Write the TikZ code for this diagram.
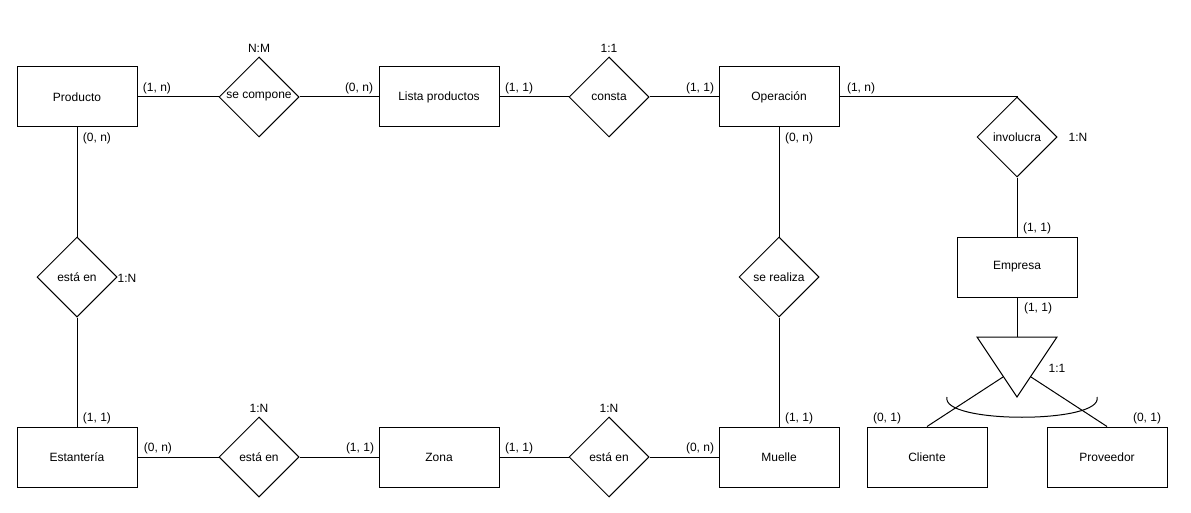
\documentclass[tikz,border=0pt]{standalone}
\usepackage{fontspec}
\setmainfont{Liberation Sans}
\usetikzlibrary{shapes.geometric}

\begin{document}
\begin{tikzpicture}[x=1pt, y=-1pt, line width=1pt,
    font=\fontsize{12}{14}\selectfont,
    entity/.style={draw, rectangle, minimum width=120pt, minimum height=60pt},
    relation/.style={draw, diamond, minimum width=80pt, minimum height=80pt, inner sep=0pt},
    card/.style={inner sep=0pt}]
    \useasboundingbox (0,0) rectangle (1191,513);

    % entidades
    \node[entity] (producto) at (77,97) {Producto};
    \node[entity] (lista) at (439,97) {Lista productos};
    \node[entity] (operacion) at (779,97) {Operación};
    \node[entity] (empresa) at (1017,267) {Empresa};
    \node[entity] (estanteria) at (77,457) {Estantería};
    \node[entity] (zona) at (439,457) {Zona};
    \node[entity] (muelle) at (779,457) {Muelle};
    \node[entity] (cliente) at (927,457) {Cliente};
    \node[entity] (proveedor) at (1107,457) {Proveedor};

    % relaciones
    \node[relation] (seCompone) at (259,97) {se compone};
    \node[relation] (consta) at (609,97) {consta};
    \node[relation] (involucra) at (1017,137) {involucra};
    \node[relation] (estaEnA) at (77,277) {está en};
    \node[relation] (seRealiza) at (779,277) {se realiza};
    \node[relation] (estaEnB) at (259,457) {está en};
    \node[relation] (estaEnC) at (609,457) {está en};

    % jerarquia
    \draw (977,337) -- (1057,337) -- (1017,397) -- cycle;
    \coordinate (isaTop) at (1017,337);
    \coordinate (isaL) at (1003,377);
    \coordinate (isaR) at (1031,377);
    \draw (947,397) .. controls (940,424) and (1104,424) .. (1097,397);

    % lineas
    \draw (producto) -- (seCompone);
    \draw (seCompone) -- (lista);
    \draw (lista) -- (consta);
    \draw (consta) -- (operacion);
    \draw (operacion.east) -| (involucra.north);
    \draw (involucra) -- (empresa);
    \draw (empresa) -- (isaTop);
    \draw (isaL) -- (cliente.north);
    \draw (isaR) -- (proveedor.north);
    \draw (producto) -- (estaEnA);
    \draw (estaEnA) -- (estanteria);
    \draw (operacion) -- (seRealiza);
    \draw (seRealiza) -- (muelle);
    \draw (estanteria) -- (estaEnB);
    \draw (estaEnB) -- (zona);
    \draw (zona) -- (estaEnC);
    \draw (estaEnC) -- (muelle);

    % cardinalidades
    \node[card] (c1) at (157,88) {(1, n)};
    \node[card] (c2) at (359,88) {(0, n)};
    \node[card] (c3) at (259,48) {N:M};
    \node[card] (c4) at (519,88) {(1, 1)};
    \node[card] (c5) at (609,48) {1:1};
    \node[card] (c6) at (700,88) {(1, 1)};
    \node[card] (c7) at (861,88) {(1, n)};
    \node[card] (c8) at (799,138) {(0, n)};
    \node[card] (c9) at (1078,137) {1:N};
    \node[card] (c10) at (1037,228) {(1, 1)};
    \node[card] (c11) at (1038,308) {(1, 1)};
    \node[card] (c12) at (1057,368) {1:1};
    \node[card] (c13) at (887,418) {(0, 1)};
    \node[card] (c14) at (1147,418) {(0, 1)};
    \node[card] (c15) at (97,138) {(0, n)};
    \node[card] (c16) at (127,278) {1:N};
    \node[card] (c17) at (97,418) {(1, 1)};
    \node[card] (c18) at (158,448) {(0, n)};
    \node[card] (c19) at (259,408) {1:N};
    \node[card] (c20) at (360,448) {(1, 1)};
    \node[card] (c21) at (519,448) {(1, 1)};
    \node[card] (c22) at (609,408) {1:N};
    \node[card] (c23) at (700,448) {(0, n)};
    \node[card] (c24) at (799,418) {(1, 1)};
\end{tikzpicture}
\end{document}
